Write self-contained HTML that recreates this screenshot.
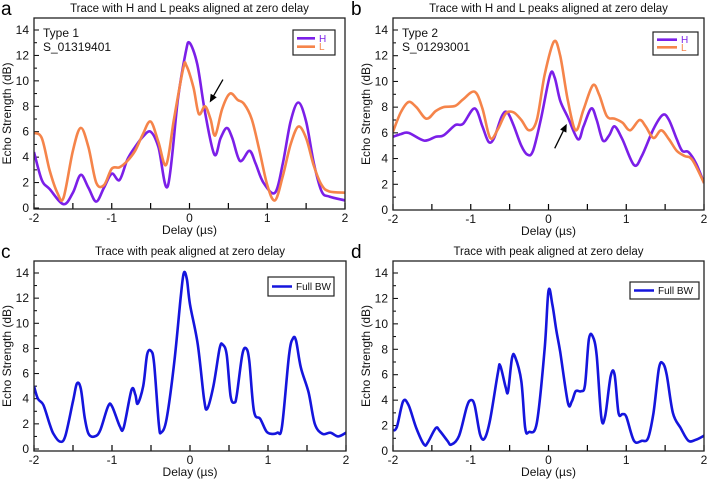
<!DOCTYPE html>
<html><head><meta charset="utf-8"><style>
body{margin:0;background:#fff;}
svg{display:block;font-family:"Liberation Sans",sans-serif;}
</style></head><body>
<svg id="fig" width="709" height="482" viewBox="0 0 709 482"></svg>
<script>
const xTicks=[-2,-1,0,1,2];
const yTicks=[0,2,4,6,8,10,12,14];
const aHx=[-2,-1.9,-1.8,-1.62,-1.5,-1.4,-1.3,-1.2,-1.1,-1.0,-0.9,-0.8,-0.7,-0.6,-0.5,-0.4,-0.28,-0.15,-0.05,0,0.1,0.2,0.32,0.4,0.48,0.55,0.65,0.77,0.85,0.95,1.1,1.2,1.3,1.4,1.5,1.6,1.7,1.8,2];
const aHy=[4.4,2.2,1.5,0.3,1.2,2.6,1.6,0.5,1.6,2.7,2.2,3.8,4.8,5.6,6.0,4.8,1.7,8.5,12.2,13.0,11.3,7.5,4.2,5.5,6.3,5.5,3.7,4.5,3.5,2.0,1.2,3.5,6.8,8.3,6.8,3.5,1.3,0.9,0.6];
const aLx=[-2,-1.9,-1.8,-1.7,-1.62,-1.5,-1.4,-1.3,-1.2,-1.1,-1.0,-0.9,-0.8,-0.7,-0.6,-0.5,-0.4,-0.3,-0.2,-0.08,-0.04,0.05,0.12,0.2,0.27,0.33,0.42,0.52,0.62,0.7,0.8,0.9,1.0,1.1,1.2,1.3,1.4,1.5,1.6,1.7,1.8,2];
const aLy=[5.9,5.5,3.0,1.2,0.8,4.5,6.3,4.8,2.0,1.8,3.1,3.2,3.7,4.5,5.8,6.8,5.2,3.4,7.0,11.0,11.2,9.5,7.4,8.0,7.0,5.7,7.8,9.0,8.5,8.2,7.0,4.5,1.8,0.6,2.5,5.0,6.4,5.5,3.3,1.8,1.3,1.2];
const bHx=[-2,-1.9,-1.8,-1.6,-1.45,-1.35,-1.2,-1.1,-0.95,-0.85,-0.77,-0.7,-0.6,-0.53,-0.45,-0.35,-0.27,-0.2,-0.1,0.02,0.08,0.15,0.25,0.38,0.45,0.55,0.62,0.7,0.78,0.85,0.95,1.1,1.2,1.35,1.47,1.55,1.65,1.72,1.8,1.9,2];
const bHy=[5.7,5.9,6.0,5.4,5.7,5.8,6.6,6.7,7.9,6.5,5.3,5.6,7.3,7.6,6.6,5.0,4.3,4.6,7.0,10.5,10.3,8.5,7.2,5.5,6.5,7.9,7.0,5.4,5.8,6.5,5.5,3.5,4.2,6.3,7.4,7.0,5.5,4.6,4.5,3.6,2.1];
const bLx=[-2,-1.9,-1.8,-1.7,-1.57,-1.45,-1.35,-1.2,-1.1,-0.95,-0.85,-0.75,-0.65,-0.55,-0.45,-0.35,-0.25,-0.15,-0.05,0.07,0.15,0.25,0.35,0.45,0.57,0.65,0.75,0.85,0.95,1.05,1.17,1.25,1.35,1.45,1.55,1.65,1.75,1.85,2];
const bLy=[6.1,7.6,8.4,8.0,7.1,7.7,8.0,8.1,8.6,9.2,7.9,5.6,6.3,7.5,7.6,7.0,6.2,7.0,10.5,13.1,12.0,8.5,6.2,7.8,9.7,9.0,7.3,7.1,6.8,6.2,7.0,6.5,5.6,6.2,5.5,4.6,4.2,3.9,2.1];
const cx=[-2,-1.95,-1.88,-1.8,-1.75,-1.67,-1.6,-1.5,-1.45,-1.4,-1.35,-1.3,-1.22,-1.15,-1.05,-1.0,-0.9,-0.85,-0.75,-0.7,-0.67,-0.6,-0.55,-0.5,-0.46,-0.4,-0.37,-0.3,-0.2,-0.12,-0.08,-0.04,0,0.1,0.18,0.22,0.3,0.38,0.42,0.47,0.52,0.57,0.6,0.67,0.72,0.76,0.82,0.9,0.98,1.05,1.12,1.18,1.27,1.32,1.36,1.42,1.52,1.6,1.7,1.8,1.9,2];
const cy=[5.0,4.0,3.5,2.0,1.2,0.6,1.0,3.8,5.2,4.8,2.5,1.2,1.0,1.5,3.4,3.4,1.8,1.7,4.7,4.3,3.6,5.0,7.5,7.8,6.8,2.0,1.3,2.4,7.0,12.0,14.0,13.5,11.5,8.3,4.0,3.2,5.0,8.0,8.3,7.5,4.2,3.7,4.3,7.5,8.0,7.0,3.0,2.4,1.4,1.2,1.3,1.8,7.5,8.8,8.6,6.5,4.5,2.0,1.2,1.3,1.0,1.3];
const dx=[-2,-1.95,-1.87,-1.8,-1.7,-1.6,-1.55,-1.45,-1.4,-1.3,-1.25,-1.15,-1.05,-1.0,-0.95,-0.88,-0.82,-0.75,-0.65,-0.62,-0.55,-0.52,-0.47,-0.43,-0.35,-0.3,-0.25,-0.15,-0.05,0,0.05,0.1,0.15,0.25,0.3,0.35,0.42,0.47,0.52,0.57,0.62,0.68,0.73,0.8,0.85,0.9,0.95,1.0,1.1,1.2,1.28,1.35,1.42,1.47,1.52,1.6,1.7,1.8,1.9,2];
const dy=[1.6,1.9,3.9,3.6,1.8,0.5,0.7,1.8,1.6,0.8,0.5,1.2,3.5,4.0,3.6,1.3,1.0,2.5,6.2,6.7,5.0,4.7,7.3,7.4,5.5,1.8,1.5,2.2,8.0,12.6,11.5,9.5,7.8,3.8,3.9,4.7,4.7,5.2,8.8,9.0,7.5,2.6,2.8,5.9,6.0,3.0,2.9,2.7,0.8,0.8,1.0,3.0,6.5,6.9,6.0,3.0,1.8,0.8,0.9,1.2];

const NS='http://www.w3.org/2000/svg';
const svg=document.getElementById('fig');
function el(tag,attrs,parent){const e=document.createElementNS(NS,tag);for(const k in attrs)e.setAttribute(k,attrs[k]);(parent||svg).appendChild(e);return e;}
function txt(s,attrs,parent){const t=el('text',attrs,parent);t.textContent=s;return t;}
function smooth(pts){let d='M'+pts[0][0]+','+pts[0][1];for(let i=0;i<pts.length-1;i++){const p0=pts[Math.max(0,i-1)],p1=pts[i],p2=pts[i+1],p3=pts[Math.min(pts.length-1,i+2)];
const c1=[p1[0]+(p2[0]-p0[0])/6,p1[1]+(p2[1]-p0[1])/6],c2=[p2[0]-(p3[0]-p1[0])/6,p2[1]-(p3[1]-p1[1])/6];
d+=' C'+c1[0].toFixed(1)+','+c1[1].toFixed(1)+' '+c2[0].toFixed(1)+','+c2[1].toFixed(1)+' '+p2[0].toFixed(1)+','+p2[1].toFixed(1);}return d;}

function panel(o){
 const g=el('g',{});
 
 
 const X=v=>o.l+(v+2)/4*(o.r-o.l), Y=v=>o.y0-v/14*(o.y0-o.y14);
 const lab=txt(o.id,{x:o.lx,y:o.top-3,'font-size':19,fill:'#000'},g);
 
 
 const tt=txt(o.title,{x:(o.l+o.r)/2,y:o.top-6,'font-size':11.5,'text-anchor':'middle',fill:'#111'},g);
 
 
 for(let v=-2;v<=2.001;v+=0.5){el('line',{x1:X(v),x2:X(v),y1:o.bot,y2:o.bot-6,stroke:'#000','stroke-width':1.2},g);}
 for(let v=0;v<=14;v++){el('line',{x1:o.l,x2:o.l+(v%2==0?5:3),y1:Y(v),y2:Y(v),stroke:'#000','stroke-width':1},g);}
 xTicks.forEach(v=>{const t=txt((v<0?'-':'')+Math.abs(v),{x:X(v),y:o.bot+13,'font-size':12,'text-anchor':'middle',fill:'#111'},g);
  
  });
 yTicks.forEach(v=>{const t=txt(String(v),{x:o.l-5,y:Y(v)+4,'font-size':12,'text-anchor':'end',fill:'#111'},g);
  
  });
 const xt=txt('Delay (µs)',{x:(o.l+o.r)/2,y:o.bot+25,'font-size':12,'text-anchor':'middle',fill:'#111'},g);
 
 
 const yt=txt('Echo Strength (dB)',{x:0,y:0,'font-size':12,'text-anchor':'middle',fill:'#111',transform:'translate('+(o.l-23)+','+(o.top+o.bot)/2+') rotate(-90)'},g);
 
 
 const cp='clip'+o.id;
 const c=el('clipPath',{id:cp},g);el('rect',{x:o.l,y:o.top,width:o.r-o.l,height:o.bot-o.top},c);
 o.series.forEach(s=>{const pts=s.x.map((v,i)=>[X(v),Y(s.y[i])]);
  const p=el('path',{d:smooth(pts),fill:'none',stroke:s.color,'stroke-width':2.6,'stroke-linejoin':'round','clip-path':'url(#'+cp+')'},g);
  
  });
 const fr=el('rect',{x:o.l,y:o.top,width:o.r-o.l,height:o.bot-o.top,fill:'none',stroke:'#222','stroke-width':1.3},g);
 
 
 const L=o.leg;const lg=el('g',{},g);
 
 
 el('rect',{x:L.x,y:L.y,width:L.w,height:L.h,fill:'#fff',stroke:'#222','stroke-width':1.2},lg);
 o.series.forEach((s,i)=>{const yy=L.y+L.h/(o.series.length+1)*(i+1);
  el('line',{x1:L.x+4,x2:L.x+L.lw,y1:yy,y2:yy,stroke:s.color,'stroke-width':2.6},lg);
  const t=txt(s.name,{x:L.x+L.lw+4,y:yy+3.5,'font-size':10,fill:s.tcolor||'#111'},lg);
  
  });
 if(o.note){o.note.forEach((n,i)=>{const t=txt(n,{x:o.l+9,y:o.top+19+i*14,'font-size':12,fill:'#111'},g);
  
  });}
 if(o.arrow){const a=o.arrow;const x1=X(a[0]),y1=Y(a[1]),x2=X(a[2]),y2=Y(a[3]);
  const ang=Math.atan2(y2-y1,x2-x1),hl=8,hw=3.5;
  const ar=el('g',{},g);
  
  
  el('line',{x1:x1,y1:y1,x2:x2-Math.cos(ang)*hl*0.8,y2:y2-Math.sin(ang)*hl*0.8,stroke:'#000','stroke-width':1.3},ar);
  const bx=x2-Math.cos(ang)*hl,by=y2-Math.sin(ang)*hl;
  el('polygon',{points:x2+','+y2+' '+(bx-Math.sin(ang)*hw)+','+(by+Math.cos(ang)*hw)+' '+(bx+Math.sin(ang)*hw)+','+(by-Math.cos(ang)*hw),fill:'#000'},ar);}
}
const PUR='#7b1fe8',ORG='#f5844a',BLU='#1515dd';
panel({id:'a',title:'Trace with H and L peaks aligned at zero delay',l:34,r:345,top:18,bot:209,y0:208,y14:30,lx:1,
 series:[{name:'H',x:aHx,y:aHy,color:PUR,tcolor:PUR},{name:'L',x:aLx,y:aLy,color:ORG,tcolor:ORG}],
 leg:{x:293,y:30,w:42,h:25,lw:22},note:['Type 1','S_01319401'],arrow:[0.43,10.1,0.26,8.3]});
panel({id:'b',title:'Trace with H and L peaks aligned at zero delay',l:393,r:704,top:18,bot:210,y0:210,y14:30,lx:351,
 series:[{name:'H',x:bHx,y:bHy,color:PUR,tcolor:PUR},{name:'L',x:bLx,y:bLy,color:ORG,tcolor:ORG}],
 leg:{x:653,y:32,w:45,h:23,lw:24},note:['Type 2','S_01293001'],arrow:[0.08,4.8,0.235,6.7]});
panel({id:'c',title:'Trace with peak aligned at zero delay',l:34,r:346,top:261,bot:451,y0:449,y14:273,lx:1,
 series:[{name:'Full BW',x:cx,y:cy,color:BLU}],leg:{x:268,y:277,w:66,h:19,lw:24}});
panel({id:'d',title:'Trace with peak aligned at zero delay',l:393,r:704,top:261,bot:451,y0:451,y14:273,lx:351,
 series:[{name:'Full BW',x:dx,y:dy,color:BLU}],leg:{x:630,y:282,w:69,h:17,lw:24}});
</script>
</body></html>
